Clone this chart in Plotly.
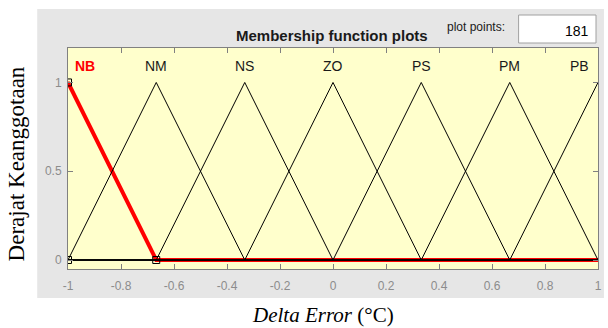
import plotly.graph_objects as go

# Membership functions of "Delta Error" (triangular: a, b, c)
mf_names = ["NB", "NM", "NS", "ZO", "PS", "PM", "PB"]
mf_a = [-1.333, -1.0, -0.667, -0.333, 0.0, 0.333, 0.667]
mf_b = [-1.0, -0.667, -0.333, 0.0, 0.333, 0.667, 1.0]
mf_c = [-0.667, -0.333, 0.0, 0.333, 0.667, 1.0, 1.333]
selected = "NB"
plot_points = 181

x_ticks = [-1, -0.8, -0.6, -0.4, -0.2, 0, 0.2, 0.4, 0.6, 0.8, 1]
x_tick_text = ["-1", "-0.8", "-0.6", "-0.4", "-0.2", "0", "0.2", "0.4", "0.6", "0.8", "1"]
y_ticks = [0, 0.5, 1]
y_tick_text = ["0", "0.5", "1"]

x_min, x_max = -1.0, 1.0

# pixel layout of the figure
W, H = 608, 328
L, R, T, B = 68, 602, 48, 269


def px_x(p):
    return (p - L) / (R - L)


def px_y(p):
    return (B - p) / (B - T)


def tri_path(a, b, c):
    xs = [x_min, a, b, c, x_max]
    ys = [0, 0, 1, 0, 0]
    return xs, ys


fig = go.Figure()

# selected function, thick red
for name, a, b, c in zip(mf_names, mf_a, mf_b, mf_c):
    if name != selected:
        continue
    xs, ys = tri_path(a, b, c)
    fig.add_trace(go.Scatter(x=xs, y=ys, mode="lines",
                             line=dict(color="#ff0000", width=4),
                             hoverinfo="skip"))

# all other functions, thin black
for name, a, b, c in zip(mf_names, mf_a, mf_b, mf_c):
    if name == selected:
        continue
    xs, ys = tri_path(a, b, c)
    fig.add_trace(go.Scatter(x=xs, y=ys, mode="lines",
                             line=dict(color="#000000", width=1),
                             hoverinfo="skip"))

# square handles on the selected function
i = mf_names.index(selected)
hx = [x_min, max(mf_b[i], x_min), mf_c[i]]
hy = [0, 1, 0]
fig.add_trace(go.Scatter(x=hx, y=hy, mode="markers",
                         marker=dict(symbol="square-open", size=7,
                                     color="#000000", line=dict(width=1)),
                         hoverinfo="skip"))

# function names above the peaks
annotations = []
for name, b in zip(mf_names, mf_b):
    is_sel = name == selected
    if b <= x_min:
        anchor, shift = "left", 5
    elif b >= x_max:
        anchor, shift = "right", -7
    else:
        anchor, shift = "center", 0
    annotations.append(dict(
        x=b, y=1.093, xref="x", yref="y", text=("<b>%s</b>" % name) if is_sel else name,
        showarrow=False, xanchor=anchor, yanchor="middle", xshift=shift,
        font=dict(family="Liberation Sans, Arial", size=14,
                  color="#ff0000" if is_sel else "#1a1a1a")))

annotations += [
    dict(x=px_x(334), y=px_y(35), xref="paper", yref="paper",
         text="<b>Membership function plots</b>", showarrow=False,
         xanchor="center", yanchor="middle",
         font=dict(family="Liberation Sans, Arial", size=15, color="#1a1a1a")),
    dict(x=px_x(479), y=px_y(27), xref="paper", yref="paper",
         text="plot points:", showarrow=False, xanchor="center", yanchor="middle",
         font=dict(family="Liberation Sans, Arial", size=12, color="#1a1a1a")),
    dict(x=px_x(595), y=px_y(31), xref="paper", yref="paper",
         text=str(plot_points), showarrow=False, xanchor="right", yanchor="middle",
         font=dict(family="Liberation Sans, Arial", size=14, color="#000000")),
    dict(x=px_x(16), y=px_y(164), xref="paper", yref="paper",
         text="Derajat Keanggotaan", showarrow=False, textangle=-90,
         xanchor="center", yanchor="middle",
         font=dict(family="Liberation Serif, Times New Roman", size=23, color="#000000")),
    dict(x=px_x(325), y=px_y(315), xref="paper", yref="paper",
         text="<i>Delta Error</i> (°C)", showarrow=False,
         xanchor="center", yanchor="middle",
         font=dict(family="Liberation Serif, Times New Roman", size=21, color="#000000")),
]

shapes = [
    # grey panel behind the axes
    dict(type="rect", xref="paper", yref="paper", layer="below",
         x0=px_x(37), x1=px_x(608), y0=px_y(298), y1=px_y(9),
         fillcolor="#e6e6e6", line=dict(width=0)),
    # pale yellow axes area
    dict(type="rect", xref="paper", yref="paper", layer="below",
         x0=0, x1=1, y0=0, y1=1,
         fillcolor="#ffffcc", line=dict(width=0)),
    # plot points edit box
    dict(type="rect", xref="paper", yref="paper", layer="above",
         x0=px_x(522), x1=px_x(600), y0=px_y(43), y1=px_y(15),
         fillcolor="#ffffff", line=dict(color="#a0a0a0", width=1)),
]

fig.update_layout(
    width=W, height=H,
    margin=dict(l=L, r=W - R, t=T, b=H - B, pad=0),
    paper_bgcolor="#ffffff", plot_bgcolor="#ffffcc",
    showlegend=False,
    annotations=annotations,
    shapes=shapes,
)

fig.update_xaxes(range=[x_min, x_max], tickvals=x_ticks, ticktext=x_tick_text,
                 ticks="inside", ticklen=5, tickcolor="#808080",
                 showline=True, linecolor="#808080", linewidth=1, mirror="ticks",
                 showgrid=False, zeroline=False, ticklabelstandoff=6,
                 tickfont=dict(family="Liberation Sans, Arial", size=12, color="#8c8c8c"))
fig.update_yaxes(range=[-0.0507, 1.194], tickvals=y_ticks, ticktext=y_tick_text,
                 ticks="inside", ticklen=5, tickcolor="#808080",
                 showline=True, linecolor="#808080", linewidth=1, mirror="ticks",
                 showgrid=False, zeroline=False, ticklabelstandoff=3,
                 tickfont=dict(family="Liberation Sans, Arial", size=12, color="#8c8c8c"))

fig.write_html("out.html")
